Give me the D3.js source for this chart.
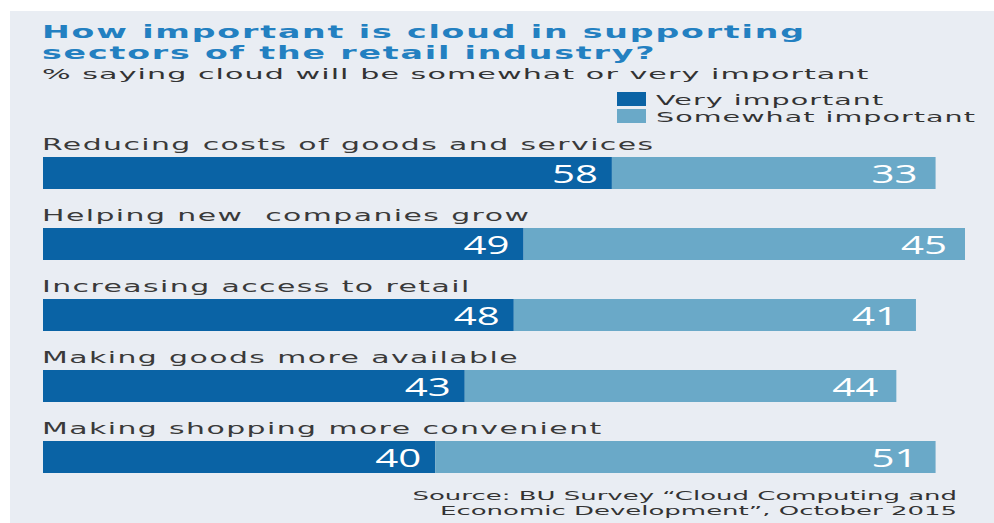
<!DOCTYPE html>
<html>
<head>
<meta charset="utf-8">
<script src="https://cdn.jsdelivr.net/npm/d3@7"></script>
<style>
  html, body { margin: 0; padding: 0; background: #ffffff; }
  svg { display: block; }
  text { white-space: pre; }
</style>
</head>
<body>
<svg id="chart" width="994" height="523"></svg>
<script>
// Survey results: share of respondents (%) per retail sector
const categories = [
  "Reducing costs of goods and services",
  "Helping new  companies grow",
  "Increasing access to retail",
  "Making goods more available",
  "Making shopping more convenient"
];
const veryImportant = [58, 49, 48, 43, 40];
const somewhatImportant = [33, 45, 41, 44, 51];
const seriesNames = ["Very important", "Somewhat important"];

const titleLines = [
  "How important is cloud in supporting",
  "sectors of the retail industry?"
];
const subtitle = "% saying cloud will be somewhat or very important";
const sourceLines = [
  "Source: BU Survey \u201cCloud Computing and",
  "Economic Development\u201d, October 2015"
];

const colors = { very: "#0a63a5", somewhat: "#6aa9c8" };

const svg = d3.select("#chart");
const W = 994, H = 523;

// light panel behind the whole graphic
svg.append("rect")
  .attr("x", 10).attr("y", 11)
  .attr("width", W - 10).attr("height", H - 11)
  .attr("fill", "#e9edf3");

// Text helper: draws a string at (x, y)
function addText(g, str, x, y, style, anchor) {
  return g.append("text")
    .attr("text-anchor", anchor || "start")
    .attr("transform", `translate(${x},${y})`)
    .style("font-family", style.family)
    .style("font-size", style.size + "px")
    .style("font-weight", style.weight || 400)
    .style("letter-spacing", (style.spacing || 0) + "px")
    .attr("fill", style.fill)
    .text(str);
}
// Horizontal stretch so that a reference string spans a given width
function stretchFor(style, str, width) {
  const t = addText(svg, str, 0, -100, style);
  const w = t.node().getComputedTextLength();
  t.remove();
  return width / w;
}
function placeText(g, str, x, y, style, sx, anchor) {
  return addText(g, str, x, y, style, anchor)
    .attr("transform", `translate(${x},${y}) scale(${sx},1)`);
}

const titleStyle = { family: "DejaVu Sans", size: 18, weight: 700, fill: "#2380c1", spacing: 1 };
const subStyle = { family: "DejaVu Sans", size: 14.5, fill: "#333333", spacing: 0.5 };
const legendStyle = { family: "DejaVu Sans", size: 14, fill: "#333333", spacing: 0.5 };
const labelStyle = { family: "DejaVu Sans", size: 16.5, fill: "#3a3a3a", spacing: 0.8 };
const valueStyle = { family: "Open Sans", size: 26, fill: "#ffffff" };
const sourceStyle = { family: "DejaVu Sans", size: 13, fill: "#333333" };

const sxTitle = stretchFor(titleStyle, titleLines[0], 764);
const sxSub = stretchFor(subStyle, subtitle, 828);
const sxLegend = stretchFor(legendStyle, seriesNames[1], 320);
const sxLabel = stretchFor(labelStyle, categories[0], 613);
const sxValue = stretchFor(valueStyle, "58", 46);
const sxSource = stretchFor(sourceStyle, sourceLines[0], 545);

// Title and subtitle
titleLines.forEach((line, i) => {
  placeText(svg, line, 42, 38 + i * 21, titleStyle, sxTitle);
});
placeText(svg, subtitle, 42, 79, subStyle, sxSub);

// Legend
const legend = svg.append("g");
const legendColors = [colors.very, colors.somewhat];
seriesNames.forEach((name, i) => {
  legend.append("rect")
    .attr("x", 617).attr("y", 92 + i * 17)
    .attr("width", 29).attr("height", 14)
    .attr("fill", legendColors[i]);
  placeText(legend, name, 656, 105 + i * 17, legendStyle, sxLegend);
});

// Scales
const totals = veryImportant.map((v, i) => v + somewhatImportant[i]);
const x = d3.scaleLinear()
  .domain([0, d3.max(totals)])
  .range([43, 965]);
const y = d3.scaleBand()
  .domain(categories)
  .range([157, 473])
  .paddingInner(39 / 71)
  .paddingOuter(0);

const rows = categories.map((c, i) => ({
  cat: c, very: veryImportant[i], some: somewhatImportant[i], total: totals[i]
}));

const row = svg.append("g").selectAll("g.row")
  .data(rows).join("g").attr("class", "row");

// Very important segment
row.append("rect")
  .attr("x", x(0))
  .attr("y", d => y(d.cat))
  .attr("width", d => x(d.very) - x(0))
  .attr("height", y.bandwidth())
  .attr("fill", colors.very);

// Somewhat important segment, stacked after it
row.append("rect")
  .attr("x", d => x(d.very))
  .attr("y", d => y(d.cat))
  .attr("width", d => x(d.total) - x(d.very))
  .attr("height", y.bandwidth())
  .attr("fill", colors.somewhat);

// Category labels and value labels
row.each(function(d) {
  const g = d3.select(this);
  const top = y(d.cat);
  placeText(g, d.cat, 42, top - 7, labelStyle, sxLabel);
  placeText(g, String(d.very), x(d.very) - 14, top + 26, valueStyle, sxValue, "end");
  placeText(g, String(d.some), x(d.total) - 18, top + 26, valueStyle, sxValue, "end");
});

// Source note
sourceLines.forEach((line, i) => {
  placeText(svg, line, 957, 500 + i * 15, sourceStyle, sxSource, "end");
});
</script>
</body>
</html>
